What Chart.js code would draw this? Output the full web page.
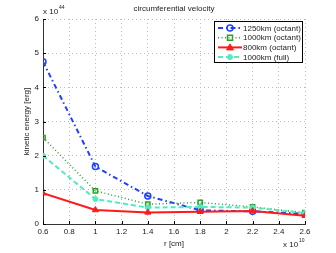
<!DOCTYPE html>
<html>
<head>
<meta charset="utf-8">
<script src="https://cdn.jsdelivr.net/npm/chart.js@4"></script>
<style>
  html, body { margin: 0; padding: 0; background: #fff; }
  #wrap { width: 336px; height: 253px; }
</style>
</head>
<body>
<div id="wrap"><canvas id="chart" width="336" height="253"></canvas></div>
<script>
// r in units of 1e10 cm, energy in units of 1e44 erg
const radius = [0.6, 1.0, 1.4, 1.8, 2.2, 2.6];
const oct1250 = [4.75, 1.68, 0.82, 0.4, 0.37, 0.3];
const oct1000 = [2.53, 0.97, 0.58, 0.63, 0.5, 0.33];
const oct800 = [0.9, 0.41, 0.34, 0.36, 0.38, 0.24];
const full1000 = [2.0, 0.73, 0.48, 0.5, 0.48, 0.32];
const seriesNames = ['1250km (octant)', '1000km (octant)', '800km (octant)', '1000km (full)'];

const FONT = 'Liberation Sans, Arial, sans-serif';
const toPts = vals => vals.map((v, i) => ({ x: radius[i], y: v }));

const datasets = [
  { label: seriesNames[0], data: toPts(oct1250), borderColor: '#2040ff', backgroundColor: 'rgba(0,0,0,0)',
    borderWidth: 2, borderDash: [5, 3, 1.5, 3], pointStyle: 'circle', pointRadius: 3, pointBorderWidth: 1.5, order: 3 },
  { label: seriesNames[1], data: toPts(oct1000), borderColor: '#2ca02c', backgroundColor: 'rgba(0,0,0,0)',
    borderWidth: 1.5, borderDash: [1, 2.5], pointStyle: 'rect', pointRadius: 3, pointBorderWidth: 1.5, order: 2 },
  { label: seriesNames[2], data: toPts(oct800), borderColor: '#ff1a1a', backgroundColor: '#ff1a1a',
    borderWidth: 2, borderDash: [], pointStyle: 'triangle', pointRadius: 3.5, pointBorderWidth: 1, order: 0 },
  { label: seriesNames[3], data: toPts(full1000), borderColor: '#50ecc0', backgroundColor: '#50ecc0',
    borderWidth: 2, borderDash: [5, 3], pointStyle: 'circle', pointRadius: 2.5, pointBorderWidth: 1, order: 1 }
];

// titles, exponent labels, inward ticks and the boxed legend
const decor = {
  id: 'decor',
  afterDraw(chart) {
    const ctx = chart.ctx;
    const a = chart.chartArea;
    const xs = chart.scales.x, ys = chart.scales.y;
    ctx.save();
    ctx.fillStyle = '#222';
    ctx.font = '8px ' + FONT;
    ctx.textAlign = 'center';
    ctx.textBaseline = 'middle';
    ctx.fillText('circumferential velocity', (a.left + a.right) / 2, 9);
    ctx.fillText('r [cm]', (a.left + a.right) / 2, 244);
    ctx.save();
    ctx.translate(27, (a.top + a.bottom) / 2);
    ctx.rotate(-Math.PI / 2);
    ctx.fillText('kinetic energy [erg]', 0, 0);
    ctx.restore();
    // exponents
    ctx.textAlign = 'left';
    ctx.fillText('x 10', 43, 12);
    ctx.fillText('x 10', 283, 245);
    ctx.font = '5px ' + FONT;
    ctx.fillText('44', 59, 8);
    ctx.fillText('10', 299, 241);
    // inward ticks
    ctx.strokeStyle = '#000';
    ctx.lineWidth = 1;
    ctx.beginPath();
    ys.ticks.forEach(t => {
      const y = Math.round(ys.getPixelForValue(t.value)) + 0.5;
      ctx.moveTo(a.left, y); ctx.lineTo(a.left + 3, y);
    });
    xs.ticks.forEach(t => {
      const x = Math.round(xs.getPixelForValue(t.value)) + 0.5;
      ctx.moveTo(x, a.bottom); ctx.lineTo(x, a.bottom - 3);
    });
    ctx.stroke();
    // legend box
    const bx = 214, by = 21, bw = 88, bh = 41, rowH = 9.7;
    ctx.fillStyle = '#fff';
    ctx.fillRect(bx, by, bw, bh);
    ctx.strokeStyle = '#000';
    ctx.lineWidth = 1;
    ctx.strokeRect(bx + 0.5, by + 0.5, bw, bh);
    chart.data.datasets.forEach((ds, i) => {
      const y = by + 7 + i * rowH;
      const cx = bx + 16;
      ctx.save();
      ctx.strokeStyle = ds.borderColor;
      ctx.lineWidth = ds.borderWidth;
      ctx.setLineDash(ds.borderDash);
      ctx.beginPath();
      ctx.moveTo(bx + 4, y); ctx.lineTo(bx + 28, y);
      ctx.stroke();
      ctx.setLineDash([]);
      ctx.fillStyle = ds.backgroundColor;
      ctx.lineWidth = ds.pointBorderWidth;
      ctx.beginPath();
      if (ds.pointStyle === 'circle') ctx.arc(cx, y, ds.pointRadius, 0, Math.PI * 2);
      else if (ds.pointStyle === 'rect') ctx.rect(cx - 2.5, y - 2.5, 5, 5);
      else { ctx.moveTo(cx, y - 3.5); ctx.lineTo(cx + 3.5, y + 2.5); ctx.lineTo(cx - 3.5, y + 2.5); ctx.closePath(); }
      ctx.fill(); ctx.stroke();
      ctx.restore();
      ctx.fillStyle = '#222';
      ctx.font = '8px ' + FONT;
      ctx.textAlign = 'left';
      ctx.textBaseline = 'middle';
      ctx.fillText(ds.label, bx + 29, y + 0.5);
    });
    ctx.restore();
  }
};

new Chart(document.getElementById('chart'), {
  type: 'line',
  data: { datasets },
  options: {
    responsive: false,
    animation: false,
    layout: { padding: { top: 19, right: 31, left: 0, bottom: 0 } },
    plugins: { legend: { display: false }, tooltip: { enabled: false } },
    scales: {
      x: {
        type: 'linear', min: 0.6, max: 2.6,
        afterFit: s => { s.height = 29; },
        ticks: { stepSize: 0.2, color: '#222', font: { family: FONT, size: 8 }, padding: 3,
                 maxRotation: 0, callback: v => String(+v.toFixed(1)) },
        grid: { color: '#bbbbbb', lineWidth: 1, drawTicks: false, tickLength: 0 },
        border: { color: '#333', width: 1, dash: [1, 3], display: true }
      },
      y: {
        min: 0, max: 6,
        afterFit: s => { s.width = 43; },
        ticks: { stepSize: 1, color: '#222', font: { family: FONT, size: 8 }, padding: 4 },
        grid: { color: '#bbbbbb', lineWidth: 1, drawTicks: false, tickLength: 0 },
        border: { color: '#333', width: 1, dash: [1, 3], display: true }
      }
    }
  },
  plugins: [decor]
});
</script>
</body>
</html>
